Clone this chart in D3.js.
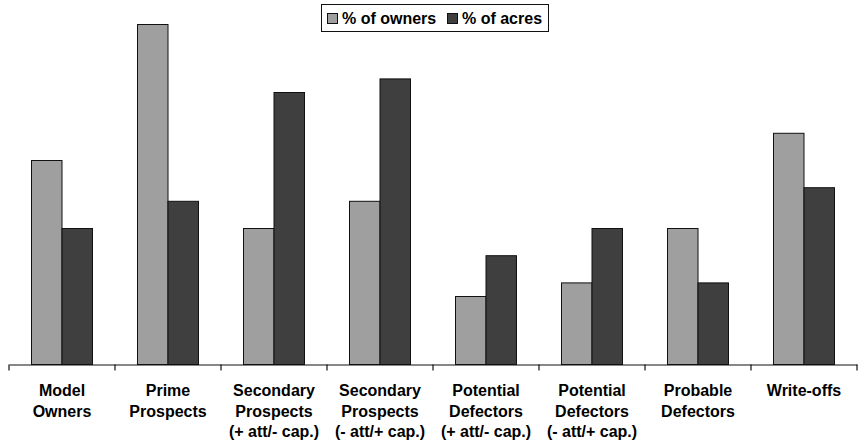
<!DOCTYPE html>
<html>
<head>
<meta charset="utf-8">
<script src="https://cdn.jsdelivr.net/npm/d3@7"></script>
<style>
  body { margin: 0; background: #fff; }
  svg { display: block; font-family: "Liberation Sans", Arial, sans-serif; }
</style>
</head>
<body>
<figure id="bar" style="margin:0"></figure>
<script>
// categories, each label split in its lines
const categories = [
  ["Model", "Owners"],
  ["Prime", "Prospects"],
  ["Secondary", "Prospects", "(+ att/- cap.)"],
  ["Secondary", "Prospects", "(- att/+ cap.)"],
  ["Potential", "Defectors", "(+ att/- cap.)"],
  ["Potential", "Defectors", "(- att/+ cap.)"],
  ["Probable", "Defectors"],
  ["Write-offs"]
];
const series = ["% of owners", "% of acres"];
const owners = [15, 25, 10, 12, 5, 6, 10, 17];
const acres  = [10, 12, 20, 21, 8, 10, 6, 13];
const colors = ["#9f9f9f", "#3f3f3f"];

const width = 858, height = 448;

const svg = d3.select("figure#bar")
  .append("svg")
  .attr("width", width)
  .attr("height", height);

const ids = categories.map((c, i) => i);

// outer band per category
const x = d3.scaleBand()
  .domain(ids)
  .range([9, 857])
  .padding(0);

// inner band for the two series
const x1 = d3.scaleBand()
  .domain(series)
  .range([22.5, x.bandwidth() - 22.5]);

const y = d3.scaleLinear()
  .domain([0, 25])
  .range([364.5, 24.5]);

const data = ids.map(i => ({ id: i, values: [owners[i], acres[i]] }));

// bars
const groups = svg.append("g").attr("class", "bars")
  .selectAll("g")
  .data(data)
  .enter()
  .append("g")
  .attr("transform", d => "translate(" + x(d.id) + ",0)");

groups.selectAll("rect")
  .data(d => d.values.map((v, j) => ({ s: series[j], v: v, j: j })))
  .enter()
  .append("rect")
  .attr("x", d => x1(d.s))
  .attr("y", d => y(d.v))
  .attr("width", x1.bandwidth())
  .attr("height", d => y(0) - y(d.v))
  .attr("fill", d => colors[d.j])
  .attr("stroke", "#111")
  .attr("stroke-width", 1);

// x axis: line with ticks on the category boundaries
const axis = svg.append("g")
  .attr("transform", "translate(0," + y(0) + ")");
axis.call(d3.axisBottom(x).tickSize(0).tickFormat(""));
axis.select(".domain").attr("stroke", "#111").attr("stroke-width", 1.2);

const bounds = ids.map(i => x(i)).concat([x.range()[1]]);
axis.selectAll("line.bound")
  .data(bounds)
  .enter()
  .append("line")
  .attr("class", "bound")
  .attr("x1", d => d).attr("x2", d => d)
  .attr("y1", 0).attr("y2", 6)
  .attr("stroke", "#111")
  .attr("stroke-width", 1.2);

// category labels
const labels = svg.append("g")
  .selectAll("text")
  .data(data)
  .enter()
  .append("text")
  .attr("text-anchor", "middle")
  .attr("font-size", "16px")
  .attr("font-weight", "bold")
  .attr("fill", "#000");

labels.selectAll("tspan")
  .data(d => categories[d.id].map(line => ({ id: d.id, line: line })))
  .enter()
  .append("tspan")
  .attr("x", d => x(d.id) + x.bandwidth() / 2)
  .attr("y", (d, k) => 396 + k * 20.5)
  .text(d => d.line);

// legend
const legend = svg.append("g").attr("class", "legend");
legend.append("rect")
  .attr("x", 321.5).attr("y", 4.5)
  .attr("width", 227).attr("height", 27)
  .attr("fill", "#fff")
  .attr("stroke", "#111")
  .attr("stroke-width", 1);

const legendX = [327, 447];
series.forEach((s, j) => {
  legend.append("rect")
    .attr("x", legendX[j] + 0.5).attr("y", 13.5)
    .attr("width", 10).attr("height", 10)
    .attr("fill", colors[j])
    .attr("stroke", "#111");
  legend.append("text")
    .attr("x", legendX[j] + 15)
    .attr("y", 24)
    .attr("font-size", "16px")
    .attr("font-weight", "bold")
    .text(s);
});
</script>
</body>
</html>
